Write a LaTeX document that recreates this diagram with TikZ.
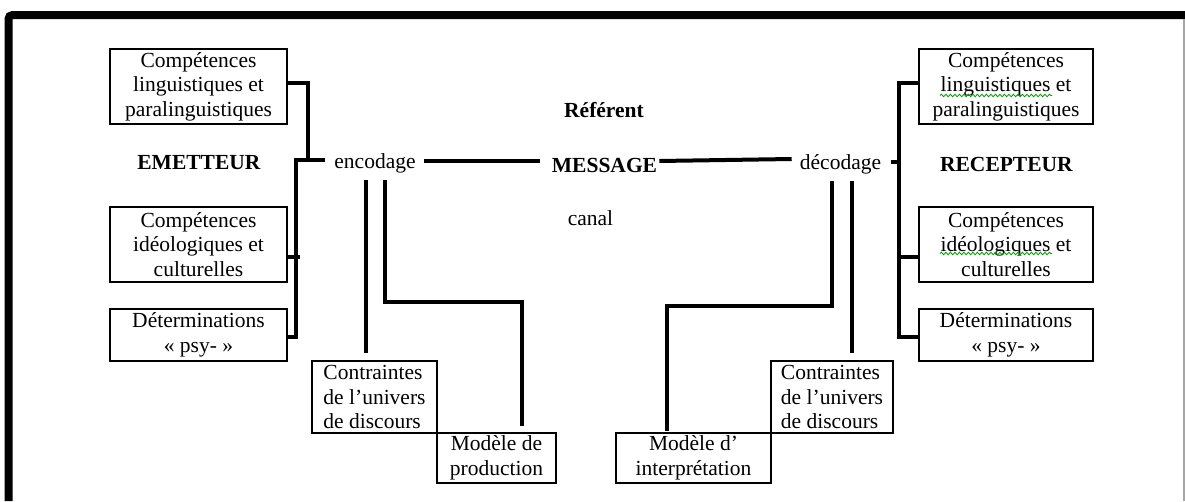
\documentclass[tikz,border=0pt]{standalone}
\usepackage{fontspec}
\setmainfont{Liberation Serif}
\usetikzlibrary{calc, decorations.pathmorphing}

\tikzset{
	txt/.style={inner sep=0pt, font=\fontsize{21.5}{24.5}\selectfont},
	box/.style={txt, draw, line width=1.1pt, align=center},
	link/.style={line width=4pt},
	spell/.style={green!60!black, line width=0.8pt, decorate, decoration={snake, amplitude=1.3pt, segment length=4.5pt}}
}

\begin{document}
\begin{tikzpicture}[x=1pt, y=-1pt]
		\useasboundingbox (0,0) rectangle (1185,501);
		% frame
		\draw[line width=8pt, rounded corners=4pt] (8.5,501) -- (8.5,15) -- (1185,15);
		\draw[gray!70, line width=1.2pt] (1184,19) -- (1184,501);

		% emetteur side
		\node[box, minimum width=177pt, minimum height=75pt] (lcl) at (198.5,86.5) {Compétences\\linguistiques et\\paralinguistiques};
		\node[box, minimum width=177pt, minimum height=75pt] (lci) at (198.5,244.5) {Compétences\\idéologiques et\\culturelles};
		\node[box, minimum width=177pt, minimum height=52pt] (ldp) at (198.5,335) {Déterminations\\« psy- »};
		\node[txt, anchor=base] (emt) at (199,169) {\textbf{EMETTEUR}};

		% recepteur side
		\node[box, minimum width=174pt, minimum height=75pt] (rcl) at (1006,86.5) {Compétences\\linguistiques et\\paralinguistiques};
		\node[box, minimum width=174pt, minimum height=75pt] (rci) at (1006,244.5) {Compétences\\idéologiques et\\culturelles};
		\node[box, minimum width=174pt, minimum height=52pt] (rdp) at (1006,335) {Déterminations\\« psy- »};
		\node[txt, anchor=base] (rcp) at (1006.5,171) {\textbf{RECEPTEUR}};

		% middle
		\node[txt, anchor=base] (ref) at (604,117) {\textbf{Référent}};
		\node[txt, anchor=base] (msg) at (604.5,172) {\textbf{MESSAGE}};
		\node[txt, anchor=base] (can) at (590.5,225) {canal};
		\node[txt, anchor=base] (enc) at (375,168) {encodage};
		\node[txt, anchor=base] (dec) at (840.5,169) {décodage};

		% bottom boxes
		\node[box, align=left, minimum width=125pt, minimum height=72pt] (lcu) at (374.5,397) {Contraintes\\de l’univers\\de discours};
		\node[box, minimum width=119pt, minimum height=50pt] (lmp) at (496.5,458) {Modèle de\\production};
		\node[box, minimum width=155pt, minimum height=50pt] (rmi) at (693.5,458) {Modèle d’\\interprétation};
		\node[box, align=left, minimum width=122pt, minimum height=72pt] (rcu) at (832,397) {Contraintes\\de l’univers\\de discours};

		\coordinate (encIn) at ($(enc.base west)+(-9,-8)$);
		\coordinate (encOut) at ($(enc.base east)+(8,-7)$);
		\coordinate (decOut) at ($(dec.base east)+(10,-7)$);
		\coordinate (e1) at ($(enc.base west)+(31.5,12)$);
		\coordinate (e2) at ($(enc.base west)+(50.5,12)$);
		\coordinate (d1) at ($(dec.base west)+(32,12)$);
		\coordinate (d2) at ($(dec.base west)+(52,12)$);

		% brackets
		\draw[link] ([yshift=3.5pt]lcl.east) -| ([xshift=-17pt]encIn) -- (encIn);
		\draw[link] ([yshift=-2pt]ldp.east) -| ([xshift=-29pt]encIn) -- ([xshift=-17pt]encIn);
		\draw[link] ([yshift=-12.5pt]lci.east) -- ++(12,0);
		\draw[link] ([yshift=3.5pt]rcl.west) -- ++(-19,0) |- ([yshift=-2pt]rdp.west);
		\draw[link] ([yshift=-12.5pt]rci.west) -- ++(-19,0);
		\draw[link] (decOut) -- ++(9,0);

		% message line
		\draw[link] (encOut) -- ($(msg.base west)+(-12,-11)$);
		\draw[link] ($(msg.base east)+(2,-11)$) -- ($(dec.base west)+(-8,-10)$);

		% down to the models
		\draw[link] (e1) -- ($(e1 |- lcu.north)+(0,-7)$);
		\draw[link] (e2) |- ($(lmp.north)+(25.5,-130)$) -- ($(lmp.north)+(25.5,-6)$);
		\draw[link] (d2) -- ($(d2 |- rcu.north)+(0,-7)$);
		\draw[link] (d1) |- ($(rmi.north)+(-26.5,-126)$) -- ($(rmi.north)+(-26.5,-1)$);

		% spelling marks
		\draw[spell] (940,95.5) -- (1052,95.5);
		\draw[spell] (940,253.5) -- (1052,253.5);
	\end{tikzpicture}
\end{document}
